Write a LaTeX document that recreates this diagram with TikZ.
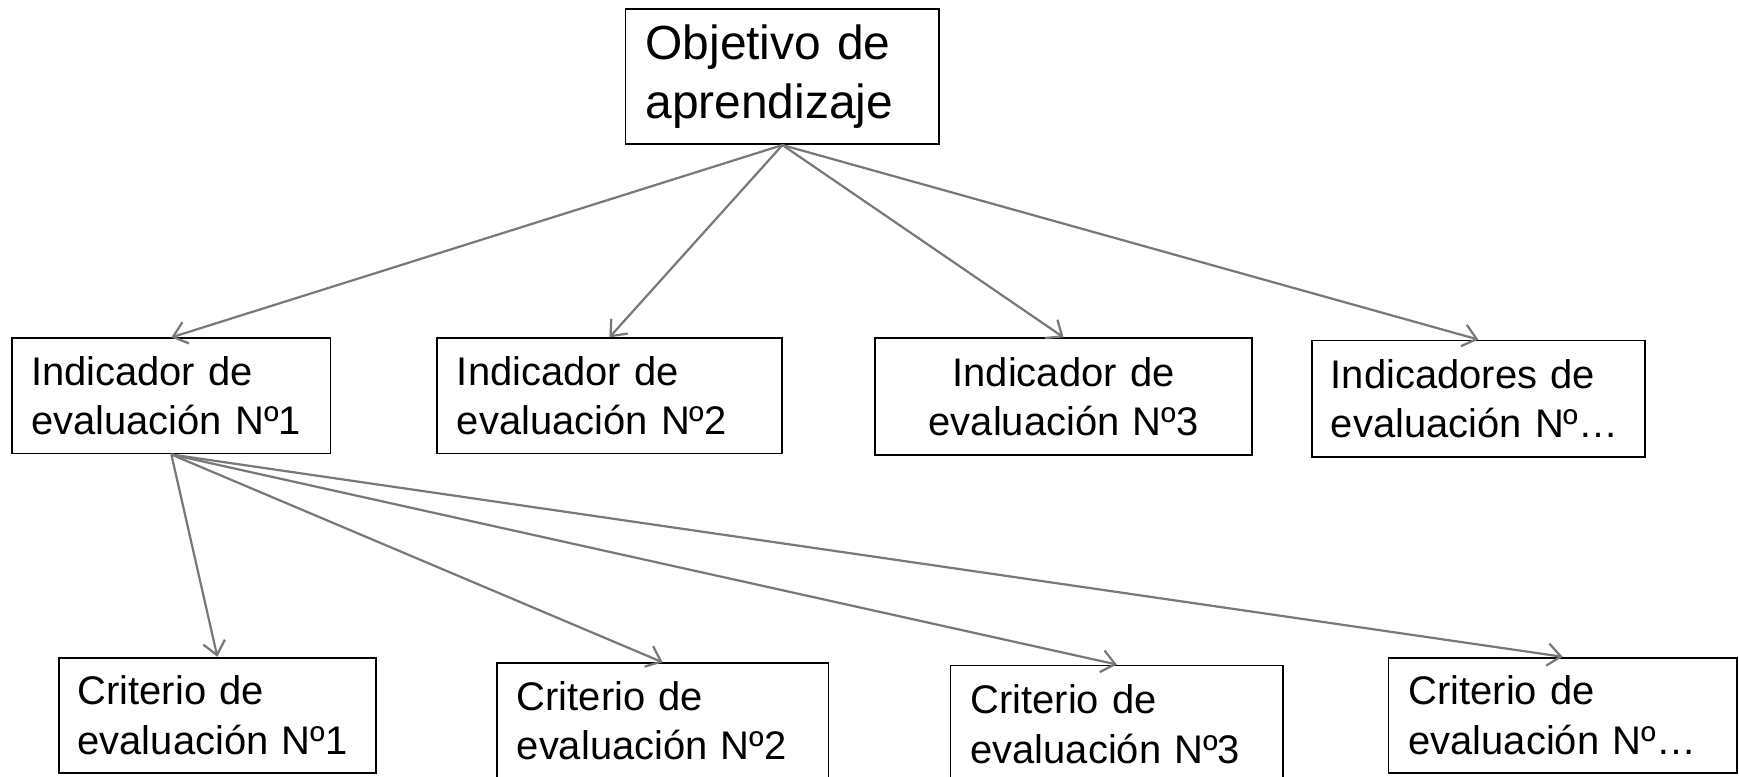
\documentclass[tikz,border=0pt]{standalone}
\usepackage{fontspec}
\setmainfont{Liberation Sans}
\usetikzlibrary{arrows.meta}
\definecolor{arrowgray}{RGB}{120,120,120}
\tikzset{
  box/.style={draw=black, line width=0.8pt, fill=white, align=left, inner ysep=0pt,
     font=\fontsize{18pt}{22.2pt}\selectfont},
  bigbox/.style={draw=black, line width=0.8pt, fill=white, align=left, inner ysep=0pt,
     font=\fontsize{21.6pt}{25pt}\selectfont},
  conn/.style={draw=arrowgray, line width=1pt, -{Straight Barb[length=6pt,width=10pt,line width=1pt]}}
}
\begin{document}
\begin{tikzpicture}[x=0.5pt,y=-0.5pt]
\useasboundingbox (0,0) rectangle (1568,700);
% top
\node[bigbox, inner xsep=9pt, text width=123.5pt, minimum height=61pt] (obj) at (705.5,69) {Objetivo de\\[1.5pt]aprendizaje};
% indicators
\node[box, inner xsep=8.5pt, text width=126.5pt, minimum height=52pt] (ind1) at (154.5,357) {Indicador de\\evaluación Nº1};
\node[box, inner xsep=9pt, text width=137.5pt, minimum height=52pt] (ind2) at (549.5,357) {Indicador de\\evaluación Nº2};
\node[box, align=center, inner xsep=9pt, text width=152pt, minimum height=52.5pt] (ind3) at (959,357.5) {Indicador de\\evaluación Nº3};
\node[box, inner xsep=8.5pt, text width=133pt, minimum height=52.5pt] (ind4) at (1333,359.5) {Indicadores de\\evaluación Nº…};
% criteria
\node[box, inner xsep=8.5pt, text width=126pt, minimum height=52pt] (crit1) at (196,645) {Criterio de\\evaluación Nº1};
\node[box, inner xsep=9pt, text width=131.5pt, minimum height=52pt] (crit2) at (597.5,650) {Criterio de\\evaluación Nº2};
\node[box, inner xsep=9pt, text width=132pt, minimum height=53pt] (crit3) at (1007,653) {Criterio de\\evaluación Nº3};
\node[box, inner xsep=9pt, text width=139pt, minimum height=52pt] (crit4) at (1409,645) {Criterio de\\evaluación Nº…};
% connectors
\foreach \t in {ind1,ind2,ind3,ind4} \draw[conn] (obj.south) -- (\t.north);
\foreach \t in {crit1,crit2,crit3,crit4} \draw[conn] (ind1.south) -- (\t.north);
\end{tikzpicture}
\end{document}
